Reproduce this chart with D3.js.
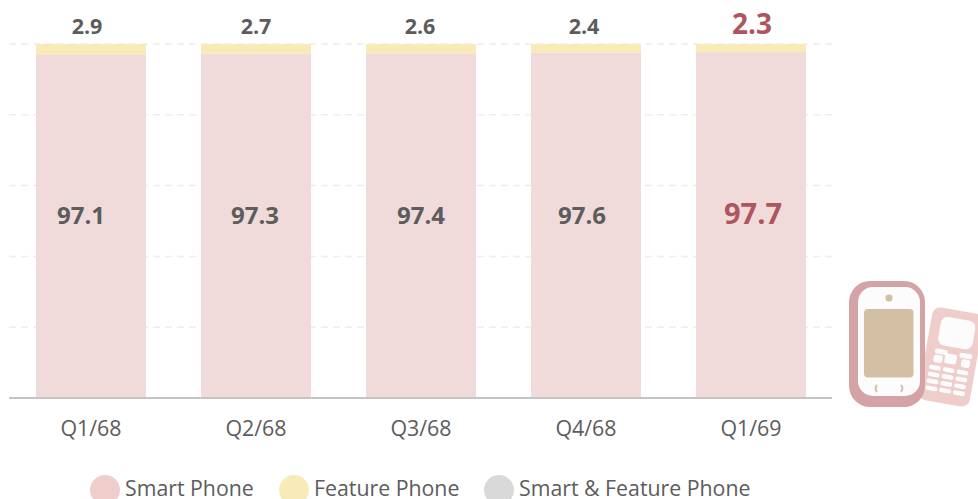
<!DOCTYPE html>
<html>
<head>
<meta charset="utf-8">
<script src="https://cdn.jsdelivr.net/npm/d3@7"></script>
<style>
html, body { margin: 0; padding: 0; background: #fff; overflow: hidden; }
text { font-family: "Open Sans", sans-serif; }
</style>
</head>
<body>
<div id="chart"></div>
<script>
var quarters = ["Q1/68", "Q2/68", "Q3/68", "Q4/68", "Q1/69"];
var smartPhone = [97.1, 97.3, 97.4, 97.6, 97.7];
var featurePhone = [2.9, 2.7, 2.6, 2.4, 2.3];
var yTicks = [0, 20, 40, 60, 80, 100];
var legendNames = ["Smart Phone", "Feature Phone", "Smart & Feature Phone"];

var width = 978, height = 499;
var colorSmart = "#f0dbda", colorFeature = "#f8ebb8", textGrey = "#5c5c5c", accent = "#ae5560";

var svg = d3.select("#chart").append("svg")
    .attr("width", width)
    .attr("height", height);

var x = d3.scaleBand()
    .domain(quarters)
    .range([8.5, 833.5])
    .paddingInner(1 / 3)
    .paddingOuter(1 / 6);

var y = d3.scaleLinear()
    .domain([0, 100])
    .range([398, 44]);

// dashed grid
svg.append("g").selectAll("line")
    .data(yTicks.slice(1))
    .join("line")
    .attr("x1", 9)
    .attr("x2", 832)
    .attr("y1", function (d) { return y(d); })
    .attr("y2", function (d) { return y(d); })
    .attr("stroke", "#eeeeee")
    .attr("stroke-width", 1.5)
    .attr("stroke-dasharray", "7 5");

// smart phone sits at the bottom, feature phone on top
svg.append("g").selectAll("rect")
    .data(quarters)
    .join("rect")
    .attr("x", function (d) { return x(d); })
    .attr("width", x.bandwidth())
    .attr("y", function (d, i) { return y(smartPhone[i]); })
    .attr("height", function (d, i) { return y(0) - y(smartPhone[i]); })
    .attr("fill", colorSmart);

svg.append("g").selectAll("rect")
    .data(quarters)
    .join("rect")
    .attr("x", function (d) { return x(d); })
    .attr("width", x.bandwidth())
    .attr("y", function (d, i) { return y(smartPhone[i] + featurePhone[i]); })
    .attr("height", function (d, i) { return y(smartPhone[i]) - y(smartPhone[i] + featurePhone[i]); })
    .attr("fill", colorFeature);

// x axis
var xAxis = svg.append("g")
    .attr("transform", "translate(0,398)")
    .call(d3.axisBottom(x).tickSize(0).tickPadding(23));
xAxis.select(".domain").remove();
xAxis.append("line")
    .attr("x1", 9)
    .attr("x2", 832)
    .attr("stroke", "#c4c4c4")
    .attr("stroke-width", 2);
xAxis.selectAll(".tick text")
    .attr("font-size", 21.4)
    .attr("font-family", "Open Sans, sans-serif")
    .attr("fill", textGrey);

// value labels were nudged by hand in the original
var smartNudge = [-10, -1, 0, -4, 2];
var featureNudge = [-4, 0, -1, -2, 1];
var last = quarters.length - 1;

svg.append("g").selectAll("text")
    .data(smartPhone)
    .join("text")
    .attr("x", function (d, i) { return x(quarters[i]) + x.bandwidth() / 2 + smartNudge[i]; })
    .attr("y", function (d, i) { return i === last ? 224 : 224; })
    .attr("text-anchor", "middle")
    .attr("font-weight", 700)
    .attr("font-size", function (d, i) { return i === last ? 29 : 24; })
    .attr("fill", function (d, i) { return i === last ? accent : textGrey; })
    .text(function (d) { return d3.format(".1f")(d); });

svg.append("g").selectAll("text")
    .data(featurePhone)
    .join("text")
    .attr("x", function (d, i) { return x(quarters[i]) + x.bandwidth() / 2 + featureNudge[i]; })
    .attr("y", 34)
    .attr("text-anchor", "middle")
    .attr("font-weight", 700)
    .attr("font-size", function (d, i) { return i === last ? 28 : 21.5; })
    .attr("fill", function (d, i) { return i === last ? accent : textGrey; })
    .text(function (d) { return d3.format(".1f")(d); });

// legend, cut off by the bottom edge like the reference
var legendColors = ["#eecdcb", "#f8ebb8", "#d9d9d9"];
var legendX = [105, 294, 499];
var legend = svg.append("g").selectAll("g")
    .data(legendNames)
    .join("g")
    .attr("transform", function (d, i) { return "translate(" + legendX[i] + ",490)"; });
legend.append("circle")
    .attr("r", 15)
    .attr("fill", function (d, i) { return legendColors[i]; });
legend.append("text")
    .attr("x", 20)
    .attr("y", 5.5)
    .attr("font-size", 21.3)
    .attr("fill", textGrey)
    .text(function (d) { return d; });

// feature phone icon (behind)
var iconWhite = "#fdfcfc";
var phone = svg.append("g")
    .attr("transform", "translate(951,357) rotate(10)");
phone.append("rect")
    .attr("x", -26).attr("y", -47).attr("width", 52).attr("height", 94).attr("rx", 8)
    .attr("fill", "#eecdcb");
phone.append("rect")
    .attr("x", -16).attr("y", -39).attr("width", 35).attr("height", 29).attr("rx", 7)
    .attr("fill", iconWhite);
// top row of soft keys
[[-17, -6, 13, 5], [-17, 0, 9, 8], [-6, -3, 12, 10], [8, -6, 13, 5], [11, 0, 9, 8]].forEach(function (k) {
    phone.append("rect")
        .attr("x", k[0]).attr("y", k[1]).attr("width", k[2]).attr("height", k[3]).attr("rx", 2.5)
        .attr("fill", iconWhite);
});
[11, 18, 25, 32].forEach(function (ky) {
    [-14, 0, 14].forEach(function (kx) {
        phone.append("rect")
            .attr("x", kx - 6).attr("y", ky).attr("width", 12).attr("height", 4.5).attr("rx", 2.2)
            .attr("fill", iconWhite);
    });
});

// smart phone icon
var smart = svg.append("g");
smart.append("rect")
    .attr("x", 849).attr("y", 281).attr("width", 76).attr("height", 126).attr("rx", 21)
    .attr("fill", "#d4a3a6");
smart.append("rect")
    .attr("x", 858).attr("y", 287).attr("width", 62).attr("height", 109).attr("rx", 15)
    .attr("fill", iconWhite);
smart.append("rect")
    .attr("x", 864).attr("y", 309).attr("width", 49.5).attr("height", 68.5).attr("rx", 4)
    .attr("fill", "#d2bfa4");
smart.append("circle")
    .attr("cx", 889).attr("cy", 298).attr("r", 3.6)
    .attr("fill", "#d2bfa4");
smart.append("path")
    .attr("d", "M877 385q-3 3.5 0 7M901 385q3 3.5 0 7")
    .attr("fill", "none")
    .attr("stroke", "#d2bfa4")
    .attr("stroke-width", 2);
</script>
</body>
</html>
